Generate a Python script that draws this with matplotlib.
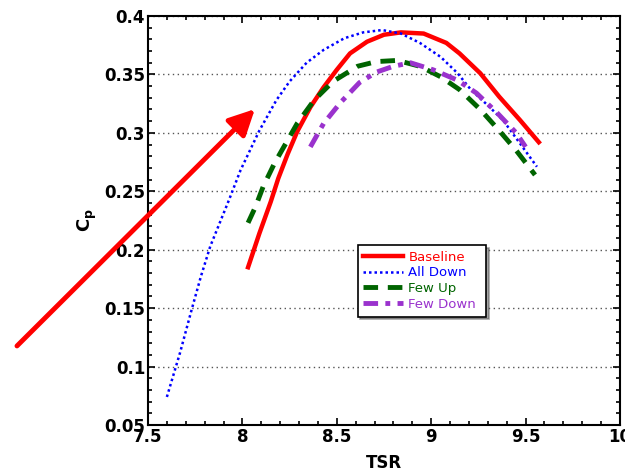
import matplotlib.pyplot as plt
from matplotlib.patches import FancyArrowPatch
from matplotlib.ticker import MultipleLocator

# values
base_tsr = [8.03, 8.09, 8.15, 8.19, 8.24, 8.29, 8.36, 8.43, 8.50, 8.57, 8.66, 8.75, 8.84, 8.96,
            9.08, 9.15, 9.26, 9.36, 9.47, 9.57]
base_cp = [0.185, 0.214, 0.241, 0.261, 0.282, 0.301, 0.322, 0.339, 0.354, 0.368, 0.378, 0.384,
           0.386, 0.385, 0.377, 0.368, 0.351, 0.331, 0.311, 0.292]

alldown_tsr = [7.60, 7.67, 7.73, 7.78, 7.83, 7.88, 7.93, 7.99, 8.04, 8.09, 8.18, 8.25, 8.34, 8.43,
               8.54, 8.64, 8.74, 8.84, 8.94, 9.05, 9.14, 9.21, 9.29, 9.38, 9.47, 9.56]
alldown_cp = [0.074, 0.112, 0.148, 0.177, 0.203, 0.223, 0.243, 0.268, 0.285, 0.302, 0.328, 0.344,
              0.360, 0.371, 0.381, 0.386, 0.388, 0.385, 0.377, 0.365, 0.351, 0.337, 0.325, 0.311,
              0.291, 0.271]

fewup_tsr = [8.03, 8.07, 8.11, 8.17, 8.23, 8.29, 8.38, 8.48, 8.61, 8.71, 8.82, 8.94, 9.05, 9.15,
             9.26, 9.36, 9.45, 9.55]
fewup_cp = [0.223, 0.237, 0.254, 0.274, 0.291, 0.308, 0.328, 0.344, 0.357, 0.361, 0.362, 0.357,
            0.348, 0.337, 0.320, 0.302, 0.285, 0.264]

fewdown_tsr = [8.36, 8.43, 8.52, 8.62, 8.71, 8.80, 8.89, 9.01, 9.14, 9.24, 9.35, 9.45, 9.50]
fewdown_cp = [0.288, 0.308, 0.326, 0.343, 0.352, 0.357, 0.360, 0.354, 0.345, 0.334, 0.317,
              0.300, 0.288]

x_ticks = [7.5, 8, 8.5, 9, 9.5, 10]
x_labels = ['7.5', '8', '8.5', '9', '9.5', '10']
y_ticks = [0.05, 0.1, 0.15, 0.2, 0.25, 0.3, 0.35, 0.4]
y_labels = ['0.05', '0.1', '0.15', '0.2', '0.25', '0.3', '0.35', '0.4']

fig = plt.figure(figsize=(6.25, 4.74), dpi=100)
ax = fig.add_axes([0.2368, 0.1034, 0.7552, 0.8628])

ax.plot(base_tsr, base_cp, color='#ff0000', lw=3.2, label='Baseline')
ax.plot(alldown_tsr, alldown_cp, color='#0000ff', lw=1.8, ls=(0, (1, 1.2)), label='All Down')
ax.plot(fewup_tsr, fewup_cp, color='#006400', lw=3.5, ls=(0, (3, 2)), label='Few Up')
ax.plot(fewdown_tsr, fewdown_cp, color='#9a32cd', lw=3.5, ls=(0, (3, 1.5, 1, 1.5)), label='Few Down')

ax.set_xlim(7.5, 10)
ax.set_ylim(0.05, 0.4)
ax.set_xticks(x_ticks)
ax.set_xticklabels(x_labels, fontsize=12, fontweight='bold')
ax.set_yticks(y_ticks)
ax.set_yticklabels(y_labels, fontsize=12, fontweight='bold')
ax.xaxis.set_minor_locator(MultipleLocator(0.1))
ax.yaxis.set_minor_locator(MultipleLocator(0.01))
ax.tick_params(which='both', direction='in', top=True, right=True, width=1.2, pad=2)
ax.tick_params(which='major', length=5)
ax.tick_params(which='minor', length=3)
ax.yaxis.grid(True, ls=(0, (1, 2.5)), color='#555555', lw=1)
for s in ax.spines.values():
    s.set_linewidth(1.5)

ax.set_xlabel('TSR', fontsize=12, fontweight='bold', labelpad=6)
ax.set_ylabel('C$_\\mathbf{p}$', fontsize=13, fontweight='bold', labelpad=4)

leg = ax.legend(loc='lower left', bbox_to_anchor=(0.43, 0.249, 0.30, 0.21), mode='expand',
                fontsize=9.5, frameon=True, fancybox=False, shadow=True, handlelength=3.0,
                borderpad=0.45, labelspacing=0.2, handletextpad=0.4)
leg.get_frame().set_edgecolor('black')
leg.get_frame().set_linewidth(1.2)
for txt, line in zip(leg.get_texts(), leg.get_lines()):
    txt.set_color(line.get_color())

# red annotation arrow drawn across the figure
fig.add_artist(FancyArrowPatch(
    (0.024, 0.266), (0.411, 0.774), transform=fig.transFigure,
    arrowstyle='-|>,head_length=12,head_width=6', color='#ff0000', lw=3.5,
    mutation_scale=1.3))

fig.savefig('out.png', dpi=100)
